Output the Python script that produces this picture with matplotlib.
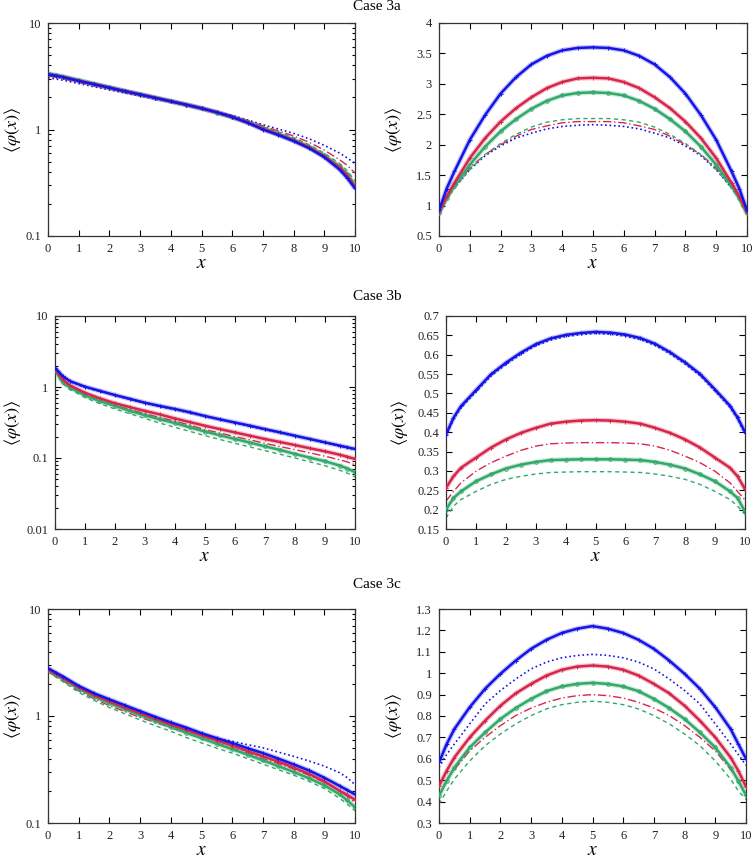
import numpy as np
import matplotlib
matplotlib.use("Agg")
import matplotlib.pyplot as plt
from matplotlib.ticker import FuncFormatter, MultipleLocator, LogLocator, NullFormatter

plt.rcParams['font.family'] = ['Liberation Serif', 'DejaVu Serif']
plt.rcParams['mathtext.fontset'] = 'stix'

x = [0, 0.25, 0.5, 1, 1.5, 2, 2.5, 3, 3.5, 4, 4.5, 5, 5.5, 6, 6.5, 7, 7.5, 8, 8.5, 9, 9.5, 9.75, 10]

# Case 3a, left (log)
a_log_blue = [3.3, 3.2, 3.1, 2.86, 2.66, 2.47, 2.29, 2.13, 1.98, 1.84, 1.71, 1.58, 1.45, 1.31, 1.16, 1.0, 0.89, 0.78, 0.67, 0.55, 0.42, 0.35, 0.28]
a_log_red = [3.3, 3.2, 3.1, 2.86, 2.66, 2.47, 2.29, 2.13, 1.98, 1.84, 1.71, 1.58, 1.45, 1.31, 1.17, 1.02, 0.9, 0.79, 0.68, 0.56, 0.44, 0.37, 0.29]
a_log_green = [3.35, 3.24, 3.13, 2.9, 2.68, 2.48, 2.3, 2.14, 1.98, 1.84, 1.71, 1.58, 1.44, 1.31, 1.17, 1.03, 0.91, 0.8, 0.69, 0.57, 0.45, 0.38, 0.3]
a_log_blue2 = [3.07, 2.98, 2.9, 2.7, 2.52, 2.36, 2.2, 2.06, 1.93, 1.81, 1.69, 1.58, 1.47, 1.36, 1.23, 1.11, 1.01, 0.92, 0.82, 0.71, 0.6, 0.54, 0.48]
a_log_red2 = [3.2, 3.1, 3.0, 2.78, 2.6, 2.42, 2.26, 2.1, 1.96, 1.83, 1.71, 1.58, 1.46, 1.34, 1.21, 1.08, 0.97, 0.87, 0.76, 0.64, 0.52, 0.46, 0.39]
a_log_green2 = [3.28, 3.18, 3.08, 2.86, 2.66, 2.47, 2.29, 2.13, 1.98, 1.84, 1.71, 1.58, 1.45, 1.32, 1.19, 1.06, 0.95, 0.84, 0.72, 0.6, 0.48, 0.41, 0.33]

# Case 3a, right (linear)
a_lin_blue = [0.92, 1.28, 1.56, 2.08, 2.49, 2.84, 3.11, 3.32, 3.46, 3.55, 3.59, 3.6, 3.59, 3.55, 3.46, 3.32, 3.11, 2.84, 2.49, 2.08, 1.56, 1.28, 0.92]
a_lin_red = [0.89, 1.15, 1.37, 1.78, 2.11, 2.38, 2.6, 2.78, 2.93, 3.03, 3.09, 3.1, 3.09, 3.03, 2.93, 2.78, 2.6, 2.38, 2.11, 1.78, 1.37, 1.15, 0.89]
a_lin_green = [0.87, 1.12, 1.32, 1.67, 1.97, 2.22, 2.42, 2.59, 2.72, 2.81, 2.85, 2.86, 2.85, 2.81, 2.72, 2.59, 2.42, 2.22, 1.97, 1.67, 1.32, 1.12, 0.87]
a_lin_blue2 = [0.91, 1.12, 1.29, 1.59, 1.82, 1.98, 2.11, 2.19, 2.26, 2.3, 2.32, 2.33, 2.32, 2.3, 2.26, 2.19, 2.11, 1.98, 1.82, 1.59, 1.29, 1.12, 0.91]
a_lin_red2 = [0.91, 1.13, 1.32, 1.62, 1.84, 2.0, 2.14, 2.25, 2.31, 2.36, 2.38, 2.38, 2.38, 2.36, 2.31, 2.25, 2.14, 2.0, 1.84, 1.62, 1.32, 1.13, 0.91]
a_lin_green2 = [0.85, 1.1, 1.29, 1.59, 1.84, 2.02, 2.17, 2.29, 2.37, 2.41, 2.43, 2.43, 2.43, 2.41, 2.37, 2.29, 2.17, 2.02, 1.84, 1.59, 1.29, 1.1, 0.85]

# Case 3b, left (log)
b_log_blue = [1.87, 1.43, 1.21, 1.01, 0.88, 0.77, 0.68, 0.6, 0.54, 0.49, 0.44, 0.39, 0.35, 0.316, 0.285, 0.255, 0.23, 0.206, 0.185, 0.166, 0.149, 0.141, 0.134]
b_log_red = [1.8, 1.28, 1.05, 0.83, 0.69, 0.59, 0.52, 0.46, 0.41, 0.36, 0.32, 0.284, 0.255, 0.229, 0.206, 0.185, 0.168, 0.152, 0.137, 0.124, 0.111, 0.104, 0.097]
b_log_green = [1.73, 1.17, 0.98, 0.76, 0.63, 0.54, 0.46, 0.4, 0.35, 0.31, 0.27, 0.236, 0.209, 0.185, 0.165, 0.146, 0.13, 0.114, 0.101, 0.09, 0.078, 0.071, 0.063]
b_log_blue2 = [1.85, 1.41, 1.19, 0.99, 0.865, 0.76, 0.67, 0.59, 0.53, 0.48, 0.43, 0.385, 0.345, 0.31, 0.28, 0.251, 0.226, 0.203, 0.182, 0.163, 0.147, 0.139, 0.132]
b_log_red2 = [1.78, 1.25, 1.02, 0.79, 0.65, 0.55, 0.48, 0.42, 0.37, 0.33, 0.29, 0.25, 0.225, 0.2, 0.18, 0.161, 0.145, 0.131, 0.118, 0.106, 0.094, 0.088, 0.08]
b_log_green2 = [1.7, 1.12, 0.93, 0.71, 0.58, 0.49, 0.42, 0.36, 0.31, 0.27, 0.237, 0.206, 0.182, 0.161, 0.143, 0.127, 0.113, 0.1, 0.088, 0.078, 0.067, 0.061, 0.054]

# Case 3b, right (linear)
b_lin_blue = [0.394, 0.437, 0.467, 0.508, 0.549, 0.579, 0.605, 0.627, 0.642, 0.651, 0.656, 0.659, 0.657, 0.652, 0.643, 0.628, 0.606, 0.58, 0.55, 0.51, 0.468, 0.438, 0.4]
b_lin_red = [0.256, 0.286, 0.308, 0.334, 0.36, 0.381, 0.398, 0.411, 0.422, 0.427, 0.43, 0.431, 0.43, 0.427, 0.422, 0.411, 0.398, 0.381, 0.36, 0.334, 0.308, 0.286, 0.253]
b_lin_green = [0.2, 0.23, 0.247, 0.273, 0.291, 0.306, 0.316, 0.323, 0.328, 0.329, 0.33, 0.33, 0.33, 0.329, 0.328, 0.323, 0.316, 0.306, 0.291, 0.273, 0.247, 0.23, 0.195]
b_lin_blue2 = [0.39, 0.433, 0.463, 0.504, 0.545, 0.575, 0.601, 0.623, 0.638, 0.647, 0.652, 0.655, 0.653, 0.648, 0.639, 0.624, 0.602, 0.576, 0.546, 0.506, 0.464, 0.434, 0.396]
b_lin_red2 = [0.222, 0.247, 0.269, 0.299, 0.321, 0.338, 0.353, 0.364, 0.37, 0.372, 0.373, 0.373, 0.373, 0.372, 0.37, 0.364, 0.353, 0.338, 0.321, 0.299, 0.269, 0.247, 0.225]
b_lin_green2 = [0.178, 0.209, 0.226, 0.247, 0.265, 0.278, 0.286, 0.292, 0.296, 0.297, 0.298, 0.298, 0.298, 0.297, 0.296, 0.292, 0.286, 0.278, 0.265, 0.247, 0.226, 0.209, 0.188]

# Case 3c, left (log)
c_log_blue = [2.79, 2.55, 2.33, 1.91, 1.63, 1.43, 1.26, 1.11, 0.98, 0.87, 0.78, 0.69, 0.62, 0.56, 0.5, 0.45, 0.4, 0.353, 0.31, 0.265, 0.222, 0.203, 0.185]
c_log_red = [2.72, 2.48, 2.25, 1.85, 1.57, 1.37, 1.2, 1.06, 0.94, 0.83, 0.74, 0.66, 0.59, 0.53, 0.47, 0.42, 0.375, 0.33, 0.288, 0.245, 0.2, 0.183, 0.165]
c_log_green = [2.7, 2.44, 2.2, 1.8, 1.52, 1.32, 1.16, 1.02, 0.9, 0.79, 0.7, 0.62, 0.55, 0.49, 0.435, 0.385, 0.34, 0.3, 0.262, 0.225, 0.185, 0.163, 0.14]
c_log_blue2 = [2.7, 2.45, 2.23, 1.84, 1.56, 1.33, 1.18, 1.04, 0.93, 0.84, 0.75, 0.67, 0.62, 0.58, 0.54, 0.505, 0.46, 0.42, 0.38, 0.34, 0.295, 0.265, 0.228]
c_log_red2 = [2.6, 2.35, 2.12, 1.72, 1.45, 1.25, 1.1, 0.97, 0.87, 0.78, 0.69, 0.62, 0.56, 0.5, 0.45, 0.4, 0.36, 0.32, 0.28, 0.24, 0.2, 0.178, 0.155]
c_log_green2 = [2.6, 2.32, 2.08, 1.66, 1.4, 1.2, 1.05, 0.92, 0.81, 0.72, 0.63, 0.56, 0.5, 0.45, 0.4, 0.355, 0.315, 0.28, 0.245, 0.21, 0.17, 0.15, 0.13]

# Case 3c, right (linear)
c_lin_blue = [0.583, 0.669, 0.739, 0.841, 0.927, 0.997, 1.059, 1.114, 1.156, 1.188, 1.208, 1.22, 1.208, 1.188, 1.156, 1.114, 1.059, 0.997, 0.927, 0.841, 0.739, 0.669, 0.6]
c_lin_red = [0.473, 0.544, 0.606, 0.7, 0.778, 0.848, 0.906, 0.95, 0.989, 1.016, 1.031, 1.036, 1.031, 1.016, 0.989, 0.95, 0.906, 0.848, 0.778, 0.7, 0.606, 0.544, 0.47]
c_lin_green = [0.427, 0.497, 0.559, 0.653, 0.723, 0.786, 0.837, 0.88, 0.916, 0.938, 0.95, 0.955, 0.95, 0.938, 0.916, 0.88, 0.837, 0.786, 0.723, 0.653, 0.559, 0.497, 0.43]
c_lin_blue2 = [0.56, 0.62, 0.669, 0.763, 0.856, 0.919, 0.973, 1.02, 1.052, 1.072, 1.083, 1.088, 1.083, 1.072, 1.052, 1.02, 0.973, 0.919, 0.856, 0.763, 0.669, 0.62, 0.57]
c_lin_red2 = [0.427, 0.5, 0.55, 0.637, 0.7, 0.755, 0.802, 0.837, 0.864, 0.884, 0.895, 0.9, 0.895, 0.884, 0.864, 0.837, 0.802, 0.755, 0.7, 0.637, 0.55, 0.5, 0.43]
c_lin_green2 = [0.388, 0.45, 0.505, 0.59, 0.661, 0.716, 0.763, 0.802, 0.833, 0.853, 0.864, 0.869, 0.864, 0.853, 0.833, 0.802, 0.763, 0.716, 0.661, 0.59, 0.505, 0.45, 0.41]

case_titles = ['Case 3a', 'Case 3b', 'Case 3c']
log_ylims = [(0.1, 10), (0.01, 10), (0.1, 10)]
lin_ylims = [(0.5, 4), (0.15, 0.7), (0.3, 1.3)]
lin_steps = [0.5, 0.05, 0.1]

BLUE = '#1414e6'
RED = '#d7264b'
GREEN = '#32a86a'

W, H = 755, 865
fig = plt.figure(figsize=(W / 100, H / 100), dpi=100)

# panel boxes in pixels: left, top, right, bottom
boxes = [
    ((48, 23, 355, 236), (439, 23, 747, 236)),
    ((55, 316, 355, 529), (446, 316, 745, 529)),
    ((48, 609, 355, 823), (439, 609, 746, 823)),
]
title_y = [7, 296, 585]
ylab_off = [(-0.117, -0.149), (-0.143, -0.154), (-0.117, -0.149)]

data = [
    ((a_log_blue, a_log_red, a_log_green, a_log_blue2, a_log_red2, a_log_green2),
     (a_lin_blue, a_lin_red, a_lin_green, a_lin_blue2, a_lin_red2, a_lin_green2)),
    ((b_log_blue, b_log_red, b_log_green, b_log_blue2, b_log_red2, b_log_green2),
     (b_lin_blue, b_lin_red, b_lin_green, b_lin_blue2, b_lin_red2, b_lin_green2)),
    ((c_log_blue, c_log_red, c_log_green, c_log_blue2, c_log_red2, c_log_green2),
     (c_lin_blue, c_lin_red, c_lin_green, c_lin_blue2, c_lin_red2, c_lin_green2)),
]

fmt = FuncFormatter(lambda v, p: '%g' % v)


def draw(ax, series):
    sb, sr, sg, db, dr, dg = series
    ax.plot(x, db, ':', color=BLUE, lw=1.2, zorder=2)
    ax.plot(x, dr, '-.', color=RED, lw=1.0, dashes=(6, 2, 1, 2), zorder=2)
    ax.plot(x, dg, '--', color=GREEN, lw=1.0, dashes=(3, 2.5), zorder=2)
    for ys, c, m in ((sg, GREEN, 'o'), (sr, RED, '+'), (sb, BLUE, '+')):
        ax.plot(x, ys, '-', color=c, lw=3.6, alpha=0.25, solid_capstyle='butt', zorder=3)
        ax.plot(x, ys, '-', color=c, lw=1.8, marker=m, ms=2.5, mew=0.7,
                mfc='none', mec=c, zorder=4)


for row in range(3):
    for col in range(2):
        l, t, r, b = boxes[row][col]
        ax = fig.add_axes([l / W, 1 - b / H, (r - l) / W, (b - t) / H])
        draw(ax, data[row][col])
        ax.set_xlim(0, 10)
        ax.xaxis.set_major_locator(MultipleLocator(1))
        if col == 0:
            ax.set_yscale('log')
            ax.set_ylim(*log_ylims[row])
            ax.yaxis.set_major_locator(LogLocator(base=10))
            ax.yaxis.set_minor_locator(LogLocator(base=10, subs=np.arange(2, 10)))
            ax.yaxis.set_minor_formatter(NullFormatter())
        else:
            ax.set_ylim(*lin_ylims[row])
            ax.yaxis.set_major_locator(MultipleLocator(lin_steps[row]))
        ax.yaxis.set_major_formatter(fmt)
        ax.xaxis.set_major_formatter(fmt)
        ax.tick_params(which='both', direction='in', top=True, right=True,
                       labelsize=9, pad=5, width=0.8, labelcolor='#222222')
        ax.tick_params(which='major', length=4)
        ax.tick_params(which='minor', length=2)
        for s in ax.spines.values():
            s.set_linewidth(0.9)
            s.set_color('#333333')
        ax.set_xlabel('$x$', fontsize=14)
        ax.xaxis.label.set_va('center')
        ax.xaxis.set_label_coords(0.5, -0.127)
        ax.set_ylabel(r'$\langle\varphi(x)\rangle$', fontsize=13)
        ax.yaxis.label.set_va('center')
        ax.yaxis.set_label_coords(ylab_off[row][col], 0.5)
    fig.text(377 / W, 1 - title_y[row] / H, case_titles[row], ha='center', va='center', fontsize=11)

fig.savefig('out.png', dpi=100)
